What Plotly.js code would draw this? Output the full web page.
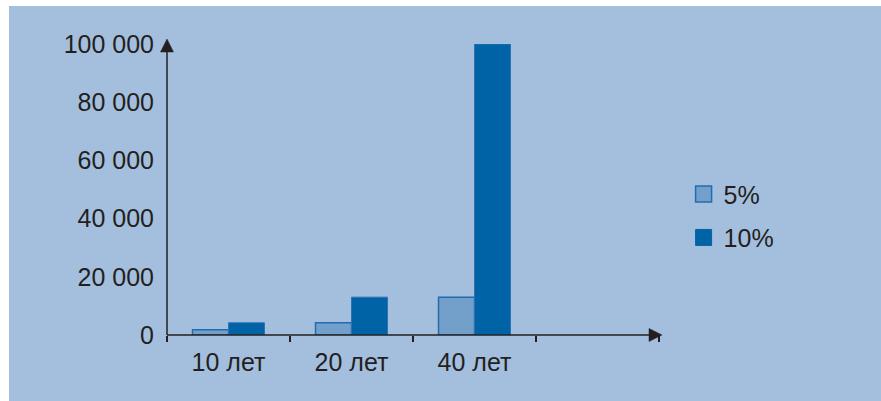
<!DOCTYPE html>
<html>
<head>
<meta charset="utf-8">
<script src="https://cdn.plot.ly/plotly-3.0.1.min.js"></script>
<style>
html,body{margin:0;padding:0;background:#ffffff;width:881px;height:401px;overflow:hidden;}
#chart{position:absolute;left:9px;top:6px;width:872px;height:395px;}
</style>
</head>
<body>
<div id="chart"></div>
<script>
// Data
const categories = ['10 лет', '20 лет', '40 лет', ' '];
const seriesNames = ['5%', '10%'];
const values5 = [1800, 4200, 13000];
const values10 = [4200, 13000, 100000];
const yTickVals = [0, 20000, 40000, 60000, 80000, 100000];
const yTickText = ['0', '20 000', '40 000', '60 000', '80 000', '100 000'];
const yMarkedTicks = [20000, 40000, 60000, 80000];

const ink = '#231f20';
const c5 = '#72a0cb', c5line = '#1f6db0';
const c10 = '#0063a6', c10line = '#2a74b4';
const font = {family: '"Liberation Sans", Arial, Helvetica, sans-serif', size: 25, color: ink};

// plot area size in px (for arrowhead decoration in paper units)
const PW = 492, PH = 291;

const traces = [
  {type: 'bar', name: seriesNames[0], x: categories.slice(0, 3), y: values5,
   marker: {color: c5, line: {color: c5line, width: 1.5}}, showlegend: false, hoverinfo: 'none'},
  {type: 'bar', name: seriesNames[1], x: categories.slice(0, 3), y: values10,
   marker: {color: c10, line: {color: c10line, width: 1}}, showlegend: false, hoverinfo: 'none'},
  {type: 'scatter', mode: 'markers', name: seriesNames[0], x: [null], y: [null], legendgroup: 'a',
   marker: {symbol: 'square', size: 16, color: c5, line: {color: c5line, width: 1.5}}},
  {type: 'scatter', mode: 'markers', name: seriesNames[1], x: [null], y: [null], legendgroup: 'b',
   marker: {symbol: 'square', size: 16, color: c10, line: {color: c10, width: 1}}}
];

function px(v) { return v / PW; }
function py(v) { return v / PH; }

const layout = {
  width: 872, height: 395,
  margin: {l: 158, r: 222, t: 38, b: 66, pad: 0},
  paper_bgcolor: '#a4bfde',
  plot_bgcolor: 'rgba(0,0,0,0)',
  font: font,
  barmode: 'group',
  bargap: 0.415,
  bargroupgap: 0,
  xaxis: {
    type: 'category', categoryorder: 'array', categoryarray: categories,
    range: [-0.5, 3.5], tickson: 'boundaries', ticks: 'outside', ticklen: 6, tickwidth: 1.5,
    tickcolor: ink, showline: false, showgrid: false, zeroline: false,
    tickfont: font, ticklabelstandoff: 10, fixedrange: true
  },
  yaxis: {
    range: [0, 100000], tickvals: yTickVals, ticktext: yTickText,
    ticks: 'outside', ticklen: 7, tickcolor: 'rgba(0,0,0,0)',
    showline: false, showgrid: false, zeroline: false, tickfont: font, fixedrange: true
  },
  yaxis2: {
    overlaying: 'y', side: 'left', range: [0, 100000], tickvals: yMarkedTicks,
    showticklabels: false, ticks: 'outside', ticklen: 7, tickwidth: 1.5, tickcolor: ink,
    showline: false, showgrid: false, zeroline: false, fixedrange: true
  },
  legend: {
    x: 1.05, xanchor: 'left', y: 0.41, yanchor: 'middle',
    bgcolor: 'rgba(0,0,0,0)', font: font, traceorder: 'grouped', tracegroupgap: 8
  },
  shapes: [
    // x axis line with arrow
    {type: 'line', xref: 'paper', yref: 'paper', x0: 0, x1: px(488), y0: 0, y1: 0,
     line: {color: ink, width: 1.5}},
    {type: 'path', xref: 'paper', yref: 'paper',
     path: `M${px(482)},${py(6.5)} L${px(495)},0 L${px(482)},${py(-6.5)} Z`,
     fillcolor: ink, line: {color: ink, width: 0.5}},
    // y axis line with arrow
    {type: 'line', xref: 'paper', yref: 'paper', x0: 0, x1: 0, y0: 0, y1: py(288),
     line: {color: ink, width: 1.5}},
    {type: 'path', xref: 'paper', yref: 'paper',
     path: `M${px(-6.5)},${py(283)} L0,${py(296)} L${px(6.5)},${py(283)} Z`,
     fillcolor: ink, line: {color: ink, width: 0.5}}
  ]
};

Plotly.newPlot('chart', traces, layout, {staticPlot: true, displayModeBar: false});
</script>
</body>
</html>
